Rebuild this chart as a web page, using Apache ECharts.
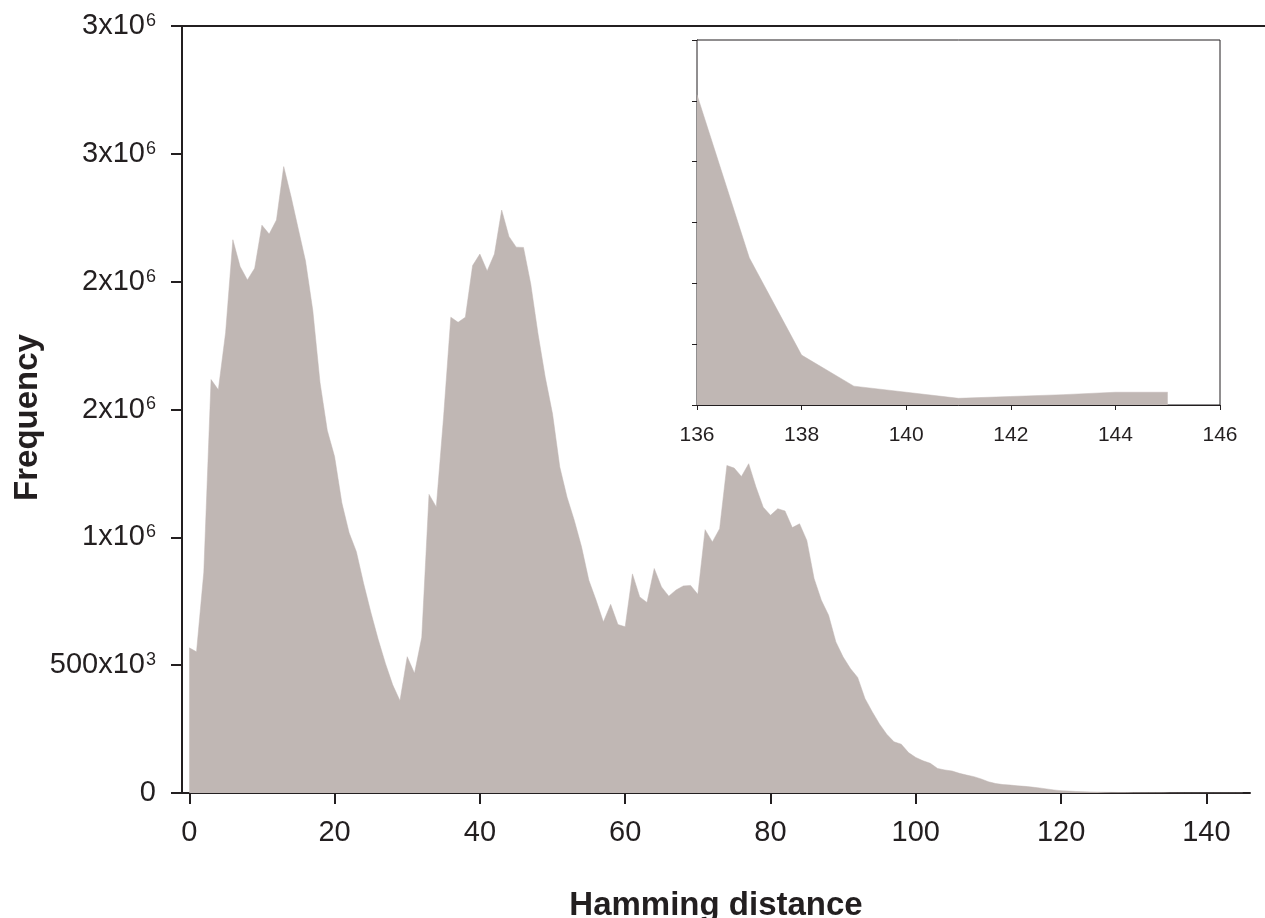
<!DOCTYPE html>
<html>
<head>
<meta charset="utf-8">
<script src="https://cdn.jsdelivr.net/npm/echarts@6/dist/echarts.min.js"></script>
<style>
html,body{margin:0;padding:0;background:#fff;}
#chart{width:1265px;height:918px;}
</style>
</head>
<body>
<div id="chart"></div>
<script>
// Frequency per Hamming distance (index = distance 0..145)
const freq = [
  568000, 552000, 863000, 1617000, 1577000, 1800000, 2164000, 2059000, 2007000, 2052000,
  2221000, 2186000, 2241000, 2450000, 2334000, 2207000, 2081000, 1888000, 1605000, 1418000,
  1316000, 1135000, 1018000, 944000, 819000, 706000, 601000, 507000, 423000, 361000,
  533000, 468000, 609000, 1168000, 1119000, 1470000, 1861000, 1841000, 1861000, 2063000,
  2108000, 2042000, 2108000, 2280000, 2177000, 2135000, 2134000, 1991000, 1796000, 1626000,
  1483000, 1275000, 1157000, 1066000, 962000, 832000, 754000, 669000, 738000, 659000,
  650000, 857000, 767000, 745000, 878000, 806000, 770000, 794000, 810000, 812000,
  777000, 1030000, 982000, 1034000, 1281000, 1271000, 1238000, 1288000, 1197000, 1118000,
  1086000, 1112000, 1103000, 1038000, 1053000, 988000, 839000, 754000, 695000, 591000,
  532000, 487000, 452000, 370000, 318000, 270000, 230000, 200000, 191000, 158000,
  139000, 126000, 116000, 96000, 90000, 86000, 77000, 70000, 64000, 55000,
  44000, 37000, 33000, 31000, 28000, 26000, 23000, 20000, 16000, 12000,
  9000, 7500, 6000, 5000, 4200, 3500, 2900, 2400, 2000, 1600,
  1300, 1100, 900, 750, 600, 450, 255, 121, 41, 15.5,
  10.5, 5.5, 7, 8.5, 10.5, 10.5
];
const startDistance = 0;
const insetStart = 136;

// Tick labels
const xTicks = [0, 20, 40, 60, 80, 100, 120, 140];
const yTickBase = ['0', '500x10', '1x10', '2x10', '2x10', '3x10', '3x10'];
const yTickExp  = ['',  '3',      '6',    '6',    '6',    '6',    '6'];
const insetXTicks = [136, 138, 140, 142, 144, 146];

const xName = 'Hamming distance';
const yName = 'Frequency';

const mainData = freq.map((v, i) => [startDistance + i, v]);
const insetData = freq.slice(insetStart - startDistance).map((v, k) => [insetStart + k, v]);

const FONT = '"Liberation Sans", Arial, Helvetica, sans-serif';
const AX = '#231f20';
const FILL = '#c0b7b4';

const chart = echarts.init(document.getElementById('chart'), null, {renderer: 'canvas'});
chart.setOption({
  animation: false,
  backgroundColor: '#ffffff',
  grid: [
    {left: 182, right: 15, top: 26, bottom: 125, containLabel: false, outerBoundsMode: 'none'},
    {left: 697, top: 40, width: 523, height: 365, show: true, backgroundColor: '#ffffff',
     borderColor: AX, borderWidth: 1, z: 5, outerBoundsMode: 'none'}
  ],
  xAxis: [
    {
      type: 'value', gridIndex: 0, min: -1, max: 146,
      name: xName, nameLocation: 'middle', nameGap: 96, nameMoveOverlap: false,
      nameTextStyle: {fontFamily: FONT, fontSize: 33, fontWeight: 'bold', color: AX},
      axisLine: {show: true, onZero: false, lineStyle: {color: AX, width: 2}},
      axisTick: {show: true, length: 11, inside: false, customValues: xTicks, lineStyle: {color: AX, width: 2}},
      axisLabel: {show: true, margin: 25, customValues: xTicks, fontFamily: FONT, fontSize: 29, color: AX},
      splitLine: {show: false}
    },
    {
      type: 'value', gridIndex: 1, min: 136, max: 146, interval: 2,
      axisLine: {show: true, onZero: false, lineStyle: {color: AX, width: 1}},
      axisTick: {show: true, length: 5, customValues: insetXTicks, lineStyle: {color: AX, width: 1}},
      axisLabel: {show: true, margin: 20, customValues: insetXTicks, fontFamily: FONT, fontSize: 21, color: AX},
      splitLine: {show: false}
    }
  ],
  yAxis: [
    {
      type: 'value', gridIndex: 0, min: 0, max: 3000000, interval: 500000,
      name: yName, nameLocation: 'middle', nameGap: 138, nameRotate: 90, nameMoveOverlap: false,
      nameTextStyle: {fontFamily: FONT, fontSize: 33, fontWeight: 'bold', color: AX, padding: [0, 16, 0, 0]},
      axisLine: {show: true, onZero: false, lineStyle: {color: AX, width: 2}},
      axisTick: {show: true, length: 11, lineStyle: {color: AX, width: 2}},
      axisLabel: {
        show: true, margin: 26,
        formatter: function (value, index) {
          const b = yTickBase[index] || '';
          const e = yTickExp[index] || '';
          return e ? '{b|' + b + '}{s|' + e + '}' : '{b|' + b + '}';
        },
        rich: {
          b: {fontFamily: FONT, fontSize: 29, color: AX, lineHeight: 32, verticalAlign: 'middle'},
          s: {fontFamily: FONT, fontSize: 18, color: AX, lineHeight: 18, verticalAlign: 'top', padding: [2, 0, 0, 1]}
        }
      },
      splitLine: {show: false}
    },
    {
      type: 'value', gridIndex: 1, min: 0, max: 300, interval: 50,
      axisLine: {show: true, onZero: false, lineStyle: {color: AX, width: 1}},
      axisTick: {show: true, length: 5, lineStyle: {color: AX, width: 1}},
      axisLabel: {show: false},
      splitLine: {show: false}
    }
  ],
  graphic: [
    {type: 'line', shape: {x1: 171, y1: 26, x2: 1265, y2: 26}, style: {stroke: AX, lineWidth: 2}, z: 10}
  ],
  series: [
    {
      type: 'line', xAxisIndex: 0, yAxisIndex: 0, data: mainData,
      showSymbol: false, symbol: 'none',
      lineStyle: {color: FILL, width: 0.5},
      areaStyle: {color: FILL, opacity: 1},
      z: 1
    },
    {
      type: 'line', xAxisIndex: 1, yAxisIndex: 1, data: insetData,
      showSymbol: false, symbol: 'none',
      lineStyle: {color: FILL, width: 0.5},
      areaStyle: {color: FILL, opacity: 1},
      z: 6
    }
  ]
});
</script>
</body>
</html>
